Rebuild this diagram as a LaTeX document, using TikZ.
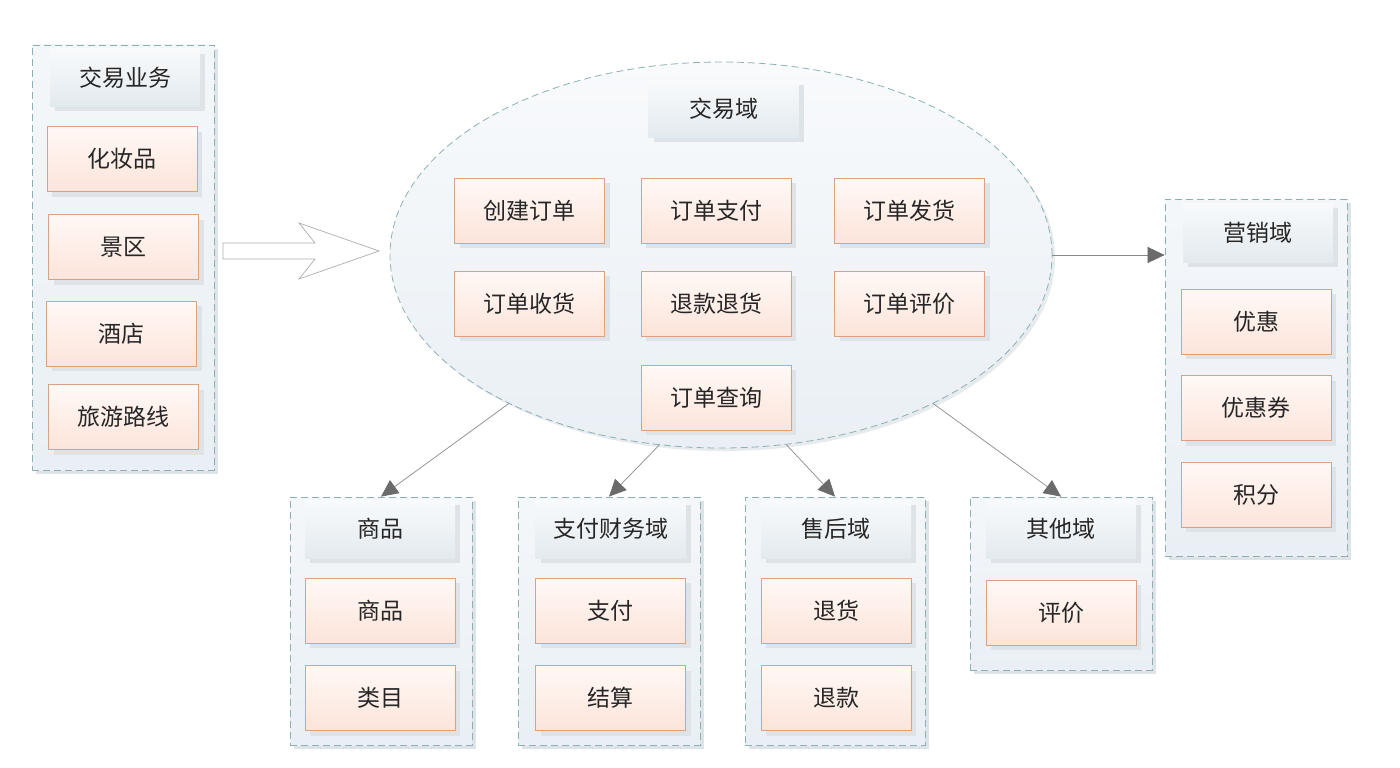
\documentclass[tikz,border=0pt]{standalone}
\usepackage{fontspec}
\setmainfont{Noto Sans CJK SC}
\usetikzlibrary{shapes.geometric,shadows,arrows.meta}

\definecolor{paneltop}{HTML}{F4F7FA}
\definecolor{panelbot}{HTML}{E9EFF4}
\definecolor{panelline}{HTML}{8DB0B5}
\definecolor{titletop}{HTML}{F8FAFC}
\definecolor{titlebot}{HTML}{E3EAEF}
\definecolor{itemtop}{HTML}{FFF9F6}
\definecolor{itembot}{HTML}{FCE4DA}
\definecolor{itemline}{HTML}{D7A382}
\definecolor{shade}{HTML}{DDE3E7}
\definecolor{conngray}{HTML}{8A8A8A}
\definecolor{headgray}{HTML}{6B6B6B}
\definecolor{txt}{HTML}{262626}

\tikzset{
  panel/.style={draw=panelline, line width=0.8pt, dash pattern=on 7pt off 4pt,
    top color=paneltop, bottom color=panelbot, inner sep=0pt,
    general shadow={fill=shade, shadow xshift=4pt, shadow yshift=-4pt}},
  domtitle/.style={top color=titletop, bottom color=titlebot, text=txt,
    minimum width=150pt, minimum height=57pt, font=\fontsize{23pt}{27pt}\selectfont,
    general shadow={fill=shade, shadow xshift=5pt, shadow yshift=-5pt}},
  item/.style={draw=itemline, line width=0.8pt, top color=itemtop, bottom color=itembot,
    text=txt, minimum width=150pt, minimum height=65pt,
    font=\fontsize{23pt}{27pt}\selectfont,
    general shadow={fill=shade, shadow xshift=5pt, shadow yshift=-5pt}},
  conn/.style={draw=conngray, line width=0.7pt,
    -{Triangle[length=17pt,width=16pt,color=headgray,fill=headgray]}},
}

\begin{document}
\begin{tikzpicture}[x=1pt, y=-1pt]
  \useasboundingbox (0,0) rectangle (1400,768);

  % Panels
  \node[panel, minimum width=182pt, minimum height=425pt] (biz) at (123,257.5) {};
  \node[panel, minimum width=182pt, minimum height=357pt] (mkt) at (1256,377.5) {};
  \node[panel, minimum width=182pt, minimum height=248pt] (goods) at (381,621) {};
  \node[panel, minimum width=182pt, minimum height=248pt] (pay) at (609,621) {};
  \node[panel, minimum width=180pt, minimum height=248pt] (after) at (835,621) {};
  \node[panel, minimum width=182pt, minimum height=173pt] (other) at (1061,583.5) {};

  % Trade domain
  \node[ellipse, draw=panelline, line width=0.8pt, dash pattern=on 7pt off 4pt,
        top color=titletop, bottom color=panelbot, minimum width=662pt, minimum height=386pt,
        general shadow={fill=shade!70, shadow xshift=3pt, shadow yshift=-3pt}]
        (trade) at (721,255) {};

  % Business side
  \node[domtitle] (bizt) at (125,77.5) {交易业务};
  \node[item] (cosm) at (122,159) {化妆品};
  \node[item] (scenic) at (123.5,247) {景区};
  \node[item] (hotel) at (121.5,333.5) {酒店};
  \node[item] (route) at (123.5,417) {旅游路线};

  % Big arrow into the trade domain
  \draw[conngray!70, line width=0.7pt, fill=white]
    (223,243) -- (315,243) -- (299,223) -- (379,251) -- (299,279) -- (315,259) -- (223,259) -- cycle;

  \node[domtitle] (tradet) at (723.5,108.5) {交易域};
  \foreach \n/\t/\x/\y in {create/创建订单/529.5/210.5, opay/订单支付/716/210.5,
                           ship/订单发货/909.5/210.5, recv/订单收货/529.5/303.5,
                           refund/退款退货/716/303.5, rate/订单评价/909.5/303.5,
                           query/订单查询/716/397.5}
    \node[item] (\n) at (\x,\y) {\t};

  % Marketing
  \node[domtitle, minimum height=59pt] (mktt) at (1258,232.5) {营销域};
  \node[item] (disc) at (1256,321.5) {优惠};
  \node[item] (coupon) at (1256,408) {优惠券};
  \node[item] (points) at (1256,494.5) {积分};

  % Bottom domains
  \node[domtitle, minimum height=58pt] (goodst) at (380,529) {商品};
  \node[item] (goodsi) at (380,610.5) {商品};
  \node[item] (categ) at (380,698) {类目};

  \node[domtitle, minimum height=58pt] (payt) at (610.5,529) {支付财务域};
  \node[item] (payi) at (610.5,610.5) {支付};
  \node[item] (settle) at (610.5,698) {结算};

  \node[domtitle, minimum height=58pt] (aftert) at (836,529) {售后域};
  \node[item] (ret) at (836,610.5) {退货};
  \node[item] (refd) at (836,698) {退款};

  \node[domtitle, minimum height=58pt] (othert) at (1061,529) {其他域};
  \node[item] (review) at (1061,612.5) {评价};

  % Connectors
  \draw[conn] (trade.east) -- (trade.east -| mkt.west);
  \draw[conn] (trade.215) -- (goods.north);
  \draw[conn] (trade.252) -- (pay.north);
  \draw[conn] (trade.289) -- (after.north);
  \draw[conn] (trade.325) -- (other.north);
\end{tikzpicture}
\end{document}
